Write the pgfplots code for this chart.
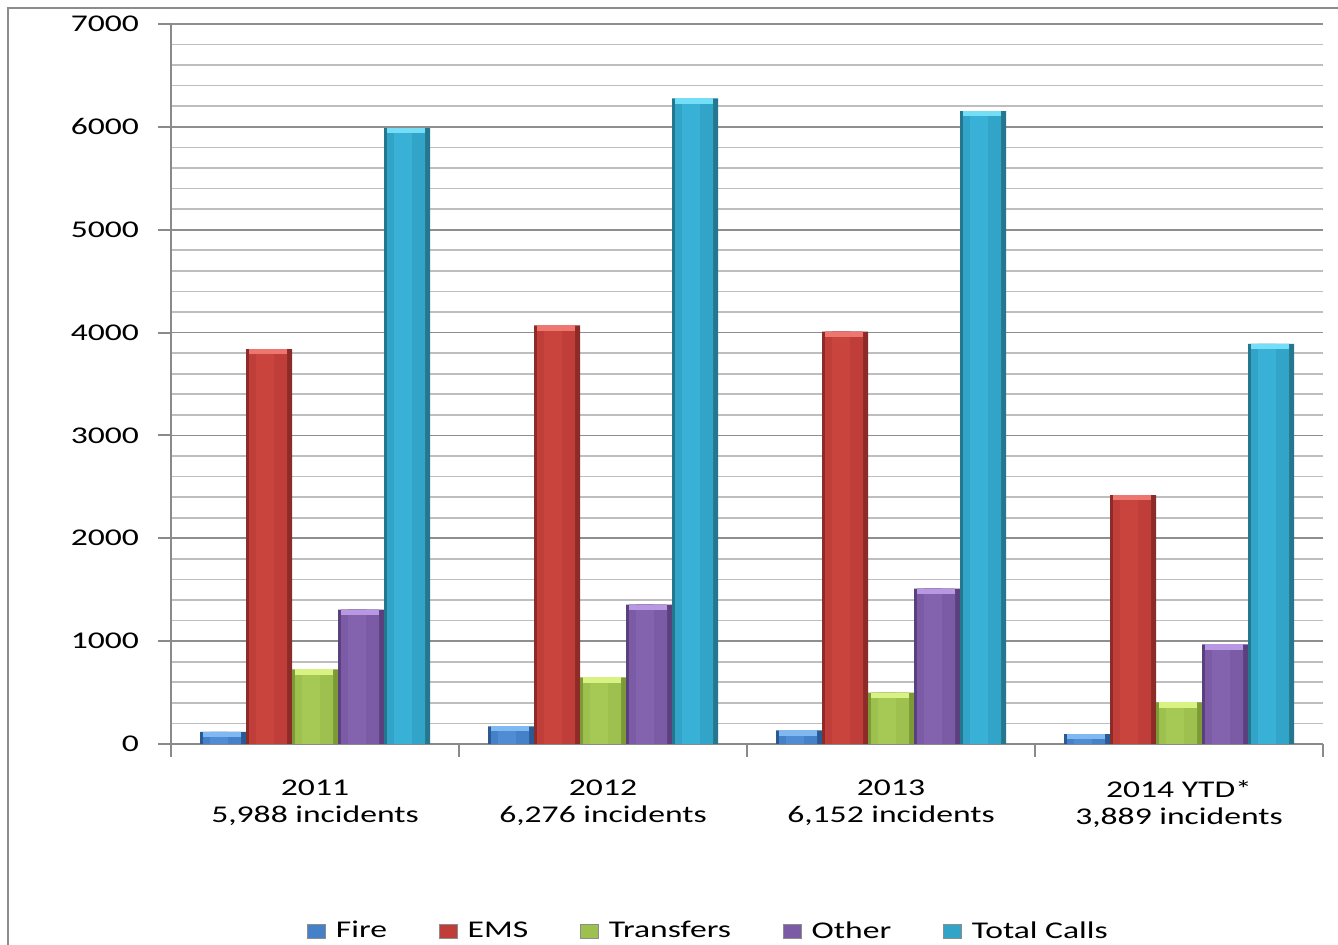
\documentclass[border=0pt]{standalone}
\usepackage{pgfplots}
\usepackage{pgfplotstable}
\pgfplotsset{compat=1.18}
\usepackage{fontspec}
\setmainfont{Carlito}[FakeStretch=1.4]
\definecolor{framegray}{HTML}{8C8C8C}
\definecolor{axisgray}{HTML}{8A8A8A}
\definecolor{majgray}{HTML}{8E8E8E}
\definecolor{mingray}{HTML}{BEBEBE}
\definecolor{fireE}{HTML}{2A5A94}\definecolor{fireB}{HTML}{4581C8}\definecolor{fireH}{HTML}{4F8CD4}\definecolor{fireC}{HTML}{80B8F2}
\definecolor{emsE}{HTML}{8C2B28}\definecolor{emsB}{HTML}{C03E39}\definecolor{emsH}{HTML}{CA443E}\definecolor{emsC}{HTML}{EE7670}
\definecolor{trE}{HTML}{7C9B37}\definecolor{trB}{HTML}{9DC04E}\definecolor{trH}{HTML}{A6C955}\definecolor{trC}{HTML}{D8F283}
\definecolor{otE}{HTML}{5B407E}\definecolor{otB}{HTML}{7B5BA5}\definecolor{otH}{HTML}{8363AD}\definecolor{otC}{HTML}{B898E2}
\definecolor{toE}{HTML}{24778F}\definecolor{toB}{HTML}{32A4C8}\definecolor{toH}{HTML}{39B1D7}\definecolor{toC}{HTML}{74DEF6}
\pgfplotstableread{
x fire ems transfers other total
0 117 3840 725 1306 5988
1 172 4070 648 1356 6276
2 132 4010 500 1510 6152
3 95 2420 405 969 3889
}\calls
\pgfplotsset{
  edge/.style 2 args={ybar, bar width=23pt, bar shift=#1, draw=none, fill=#2, forget plot},
  body/.style 2 args={ybar, bar width=19pt, bar shift=#1, draw=none, fill=#2},
  hilite/.style 2 args={ybar, bar width=9pt, bar shift=#1, draw=none, fill=#2, forget plot},
  cap/.style 2 args={forget plot, only marks, mark=-, mark size=9.5pt, xshift=#1, yshift=-1.3pt,
     mark options={draw=#2, line width=2.6pt}},
}
\begin{document}
\begin{tikzpicture}
\useasboundingbox (0,0) rectangle (669pt,472.5pt);
\draw[line width=1pt, color=framegray] (4pt,0) -- (4pt,468.5pt) -- (669pt,468.5pt);
\begin{axis}[
  at={(85.5pt,100.5pt)}, anchor=south west,
  scale only axis, width=576pt, height=360pt,
  xmin=-0.5, xmax=3.5, ymin=0, ymax=7000,
  axis x line*=bottom, axis y line*=left,
  xtick={-0.5,0.5,1.5,2.5,3.5},
  xticklabels={{2011\\5,988 incidents},{2012\\6,276 incidents},{2013\\6,152 incidents},{2014 YTD*\\3,889 incidents}},
  x tick label as interval,
  xticklabel style={align=center, font=\fontsize{12}{13.5}\selectfont, yshift=-8pt},
  ytick={0,1000,...,7000},
  minor y tick num=4,
  ymajorgrids, yminorgrids,
  major grid style={color=majgray, line width=0.8pt},
  minor grid style={color=mingray, line width=0.8pt},
  minor tick length=0pt, major tick length=6.5pt, tick align=outside,
  tick style={color=axisgray, line width=1pt},
  axis line style={color=axisgray, line width=1pt},
  /pgf/number format/1000 sep={},
  /pgf/number format/assume math mode=true,
  yticklabel style={font=\fontsize{12}{14}\selectfont, xshift=-6pt},
  legend columns=5,
  legend style={at={(0.4675,-0.26)}, anchor=center, draw=none, fill=none,
    font=\fontsize{12}{14}\selectfont,
    /tikz/every odd column/.append style={column sep=3pt},
    /tikz/every even column/.append style={column sep=24pt}},
  legend image code/.code={\draw[#1, draw=black!45, line width=0.3pt] (0pt,-3.6pt) rectangle (9pt,3.6pt);},
]
% Fire
\addplot[edge={-46pt}{fireE}] table[x=x,y=fire]{\calls};
\addplot[body={-46.5pt}{fireB}] table[x=x,y=fire]{\calls};
\addplot[hilite={-48pt}{fireH}] table[x=x,y=fire]{\calls};
% EMS
\addplot[edge={-23pt}{emsE}] table[x=x,y=ems]{\calls};
\addplot[body={-23.5pt}{emsB}] table[x=x,y=ems]{\calls};
\addplot[hilite={-25pt}{emsH}] table[x=x,y=ems]{\calls};
% Transfers
\addplot[edge={0pt}{trE}] table[x=x,y=transfers]{\calls};
\addplot[body={-0.5pt}{trB}] table[x=x,y=transfers]{\calls};
\addplot[hilite={-2pt}{trH}] table[x=x,y=transfers]{\calls};
% Other
\addplot[edge={23pt}{otE}] table[x=x,y=other]{\calls};
\addplot[body={22.5pt}{otB}] table[x=x,y=other]{\calls};
\addplot[hilite={21pt}{otH}] table[x=x,y=other]{\calls};
% Total
\addplot[edge={46pt}{toE}] table[x=x,y=total]{\calls};
\addplot[body={45.5pt}{toB}] table[x=x,y=total]{\calls};
\addplot[hilite={44pt}{toH}] table[x=x,y=total]{\calls};
% top caps
\addplot[cap={-46.5pt}{fireC}] table[x=x,y=fire]{\calls};
\addplot[cap={-23.5pt}{emsC}] table[x=x,y=ems]{\calls};
\addplot[cap={-0.5pt}{trC}] table[x=x,y=transfers]{\calls};
\addplot[cap={22.5pt}{otC}] table[x=x,y=other]{\calls};
\addplot[cap={45.5pt}{toC}] table[x=x,y=total]{\calls};
\legend{Fire,EMS,Transfers,Other,Total Calls}
\end{axis}
\end{tikzpicture}
\end{document}
